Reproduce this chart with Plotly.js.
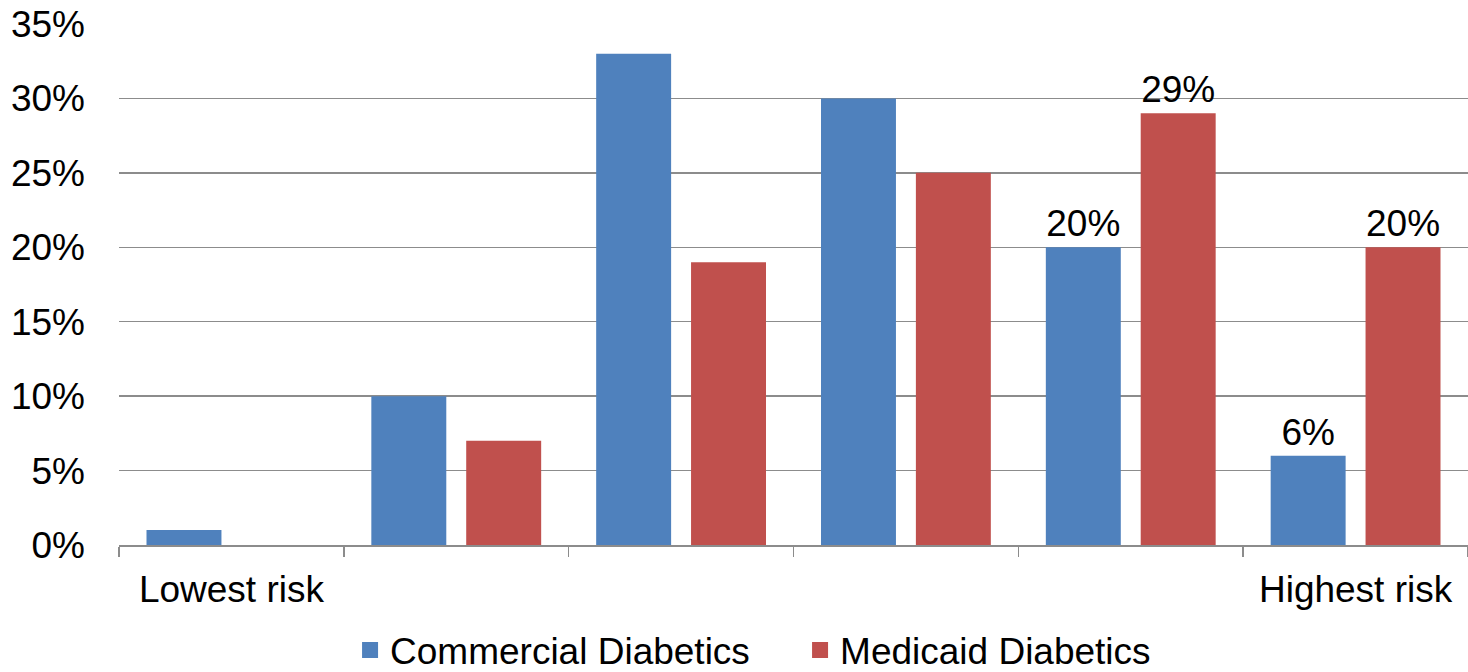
<!DOCTYPE html>
<html>
<head>
<meta charset="utf-8">
<script src="https://cdn.plot.ly/plotly-3.0.1.min.js"></script>
<style>html,body{margin:0;padding:0;background:#fff;}#chart{width:1468px;height:672px;}</style>
</head>
<body>
<div id="chart"></div>
<script>
// Data
const categoryIndex = [0, 1, 2, 3, 4, 5];
const categoryLabels = ["Lowest risk", "", "", "", "", "Highest risk"];
const commercial = [0.01, 0.10, 0.33, 0.30, 0.20, 0.06];
const medicaid = [0.00, 0.07, 0.19, 0.25, 0.29, 0.20];
const commercialLabels = ["", "", "", "", "20%", "6%"];
const medicaidLabels = ["", "", "", "", "29%", "20%"];
const seriesNames = ["Commercial Diabetics", "Medicaid Diabetics"];
const seriesColors = ["#4F81BD", "#C0504D"];

const FONT = "Liberation Sans, Arial, sans-serif";
const FS = 37;
const boundaries = categoryIndex.map(i => i - 0.5).concat([categoryIndex.length - 0.5]);

const traces = [
  {
    type: "bar", x: categoryIndex, y: commercial, name: seriesNames[0],
    marker: {color: seriesColors[0]}, showlegend: false,
    text: commercialLabels, textposition: "outside", cliponaxis: false,
    textfont: {family: FONT, size: FS, color: "#000"}, hoverinfo: "y"
  },
  {
    type: "bar", x: categoryIndex, y: medicaid, name: seriesNames[1],
    marker: {color: seriesColors[1]}, showlegend: false,
    text: medicaidLabels, textposition: "outside", cliponaxis: false,
    textfont: {family: FONT, size: FS, color: "#000"}, hoverinfo: "y"
  },
  // invisible carrier so the category-label axis is drawn
  {
    type: "scatter", mode: "none", x: categoryIndex, y: commercial,
    xaxis: "x2", showlegend: false, hoverinfo: "skip"
  },
  // legend swatches
  {
    type: "scatter", mode: "markers", x: [null], y: [null], name: seriesNames[0],
    marker: {symbol: "square", size: 16, color: seriesColors[0]}
  },
  {
    type: "scatter", mode: "markers", x: [null], y: [null], name: seriesNames[1],
    marker: {symbol: "square", size: 16, color: seriesColors[1]}
  }
];

const layout = {
  width: 1468, height: 672,
  margin: {l: 119, r: 0, t: 24, b: 127},
  paper_bgcolor: "#fff", plot_bgcolor: "#fff",
  font: {family: FONT, size: FS, color: "#000"},
  barmode: "group", bargap: 0.156, bargroupgap: 0.21,
  showlegend: true,
  legend: {
    orientation: "h", xref: "container", yref: "container",
    x: 0.545, xanchor: "center", y: 0.032, yanchor: "middle",
    font: {family: FONT, size: FS, color: "#000"},
    itemwidth: 30, entrywidth: 405, tracegroupgap: 0
  },
  xaxis: {
    type: "linear", range: [-0.5, 5.5],
    tickmode: "array", tickvals: boundaries, ticktext: boundaries.map(() => ""),
    ticks: "outside", ticklen: 10, tickwidth: 1.5, tickcolor: "#8c8c8c",
    showgrid: false, zeroline: false,
    showline: true, linecolor: "#8c8c8c", linewidth: 1.5,
    showticklabels: false, fixedrange: true
  },
  xaxis2: {
    type: "linear", range: [-0.5, 5.5], overlaying: "x", side: "bottom",
    tickmode: "array", tickvals: categoryIndex, ticktext: categoryLabels,
    ticks: "outside", ticklen: 12, tickcolor: "rgba(0,0,0,0)",
    showgrid: false, zeroline: false, showline: false,
    tickfont: {family: FONT, size: FS, color: "#000"}
  },
  yaxis: {
    range: [0, 0.35], dtick: 0.05, tick0: 0, tickformat: ".0%",
    showgrid: true, gridcolor: "#8c8c8c", gridwidth: 1.5,
    zeroline: false, showline: false, ticks: "",
    ticklabelstandoff: 33,
    tickfont: {family: FONT, size: FS, color: "#000"}, fixedrange: true
  }
};

Plotly.newPlot("chart", traces, layout, {displayModeBar: false, staticPlot: true});
</script>
</body>
</html>
